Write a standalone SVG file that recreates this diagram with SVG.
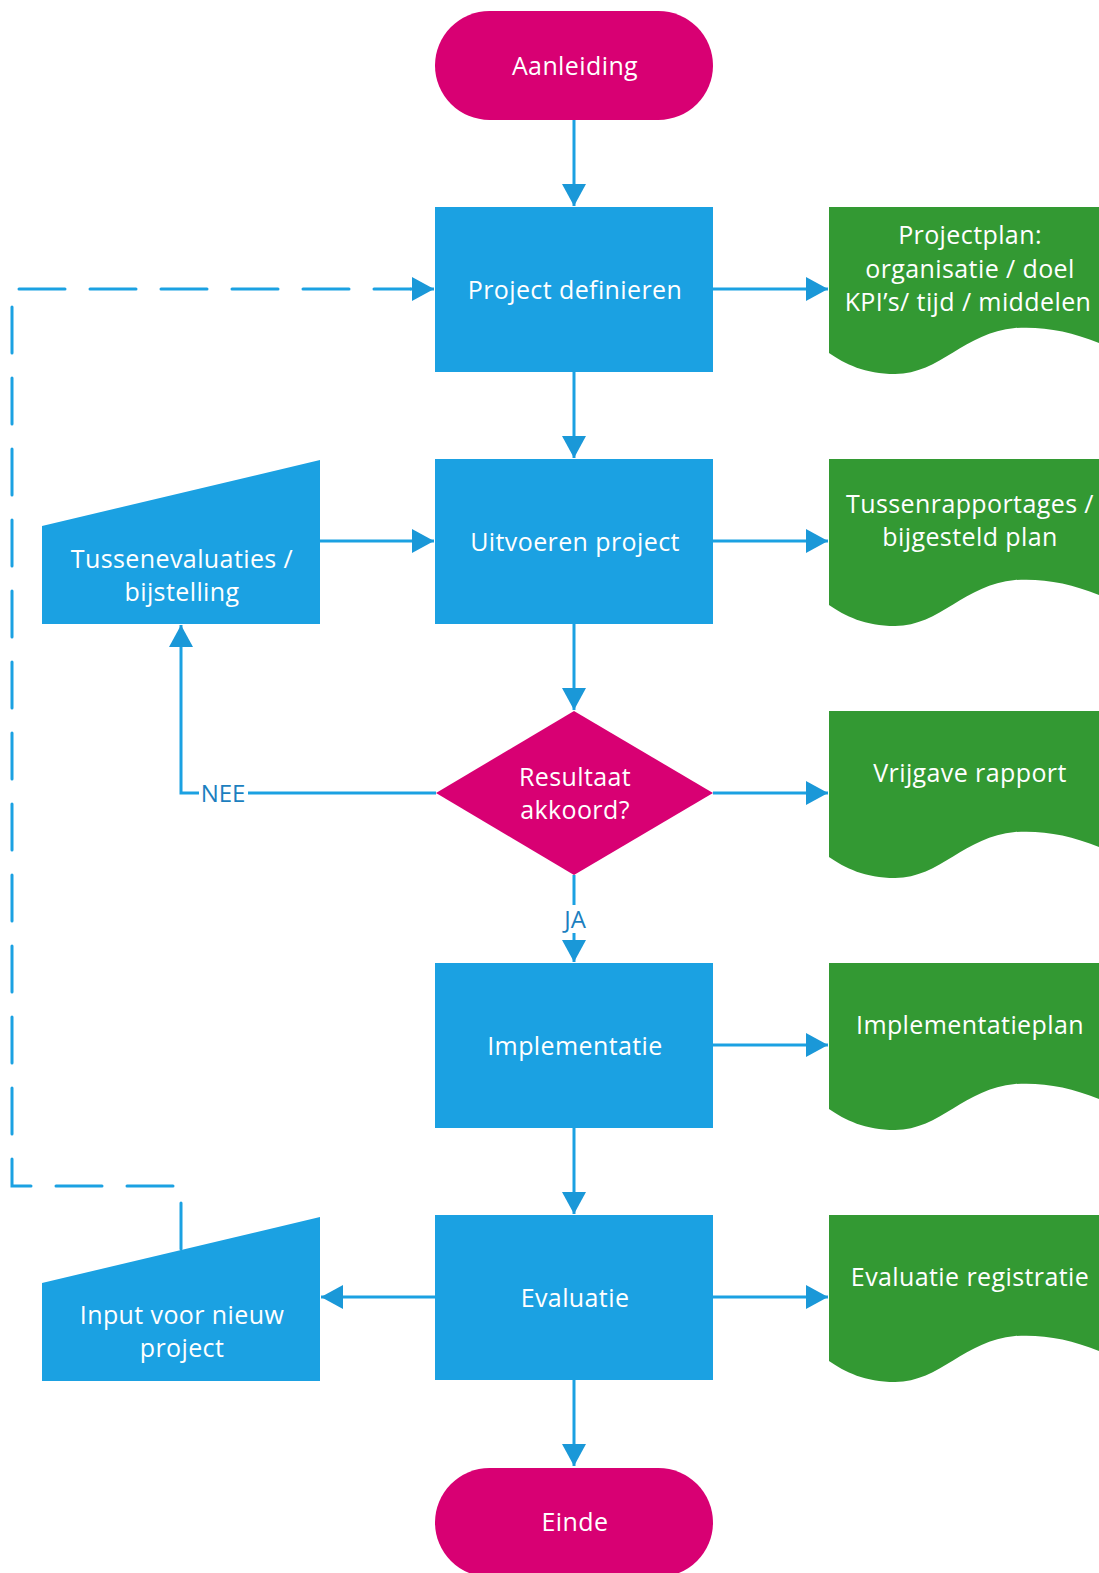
<svg xmlns="http://www.w3.org/2000/svg" width="1099" height="1573" viewBox="0 0 1099 1573">
<defs>
<marker id="ah" markerUnits="userSpaceOnUse" markerWidth="24" markerHeight="24" refX="22" refY="12" orient="auto">
<path d="M0,0 L22,12 L0,24 Z" fill="#1a98d8"/>
</marker>
<path id="wave" d="M0,0 H277 V139 C246,125 216,119 186,121 C136,125 111,167 66,167 C36,167 16,157 0,146 Z"/>
<style>
.term{fill:#d80073}
.proc{fill:#1ba1e2}
.doc{fill:#339933}
.t{font-family:"Open Sans","Noto Sans","Liberation Sans",sans-serif;font-size:25px;fill:#ffffff;text-anchor:middle;letter-spacing:0.4px}
.lbl{font-family:"Open Sans","Noto Sans","Liberation Sans",sans-serif;font-size:24px;fill:#1c7fbf;text-anchor:middle}
.c{fill:none;stroke:#1ba1e2;stroke-width:3;marker-end:url(#ah)}
.d{fill:none;stroke:#1ba1e2;stroke-width:3;stroke-dasharray:46 25;stroke-linecap:round}
</style>
</defs>
<rect width="1099" height="1573" fill="#ffffff"/>

<g id="connectors">
<path class="c" d="M574,120 V206"/>
<path class="c" d="M713,289 H828"/>
<path class="c" d="M574,372 V458"/>
<path class="c" d="M320,541 H434"/>
<path class="c" d="M713,541 H828"/>
<path class="c" d="M574,624 V710"/>
<path class="c" d="M436,793 H181 V625"/>
<path class="c" d="M713,793 H828"/>
<path class="c" d="M574,875 V962"/>
<path class="c" d="M713,1045 H828"/>
<path class="c" d="M574,1128 V1214"/>
<path class="c" d="M713,1297 H828"/>
<path class="c" d="M435,1297 H321"/>
<path class="c" d="M574,1380 V1466"/>
<path class="d" d="M181,1249 V1186 H12 V289 H410"/>
<path class="c" d="M410,289 H434"/>
<rect x="199" y="779" width="49" height="28" fill="#ffffff"/>
<text class="lbl" x="223" y="802">NEE</text>
<rect x="556" y="905" width="36" height="28" fill="#ffffff"/>
<text class="lbl" x="575" y="928">JA</text>
</g>

<g id="aanleiding">
<rect class="term" x="435" y="11" width="278" height="109" rx="54.5"/>
<text class="t" x="575" y="75">Aanleiding</text>
</g>

<g id="project-definieren">
<rect class="proc" x="435" y="207" width="278" height="165"/>
<text class="t" x="575" y="299">Project definieren</text>
</g>

<g id="projectplan">
<use href="#wave" class="doc" x="829" y="207"/>
<text class="t" x="970" y="244">Projectplan:</text>
<text class="t" x="970" y="278">organisatie / doel</text>
<text class="t" x="968" y="311">KPI’s/ tijd / middelen</text>
</g>

<g id="uitvoeren-project">
<rect class="proc" x="435" y="459" width="278" height="165"/>
<text class="t" x="575" y="551">Uitvoeren project</text>
</g>

<g id="tussenevaluaties">
<path class="proc" d="M42,526 L320,460 V624 H42 Z"/>
<text class="t" x="182" y="568">Tussenevaluaties /</text>
<text class="t" x="182" y="601">bijstelling</text>
</g>

<g id="tussenrapportages">
<use href="#wave" class="doc" x="829" y="459"/>
<text class="t" x="970" y="513">Tussenrapportages /</text>
<text class="t" x="970" y="546">bijgesteld plan</text>
</g>

<g id="resultaat-akkoord">
<path class="term" d="M574,711 L713,793 L574,875 L436,793 Z"/>
<text class="t" x="575" y="786">Resultaat</text>
<text class="t" x="575" y="819">akkoord?</text>
</g>

<g id="vrijgave-rapport">
<use href="#wave" class="doc" x="829" y="711"/>
<text class="t" x="970" y="782">Vrijgave rapport</text>
</g>

<g id="implementatie">
<rect class="proc" x="435" y="963" width="278" height="165"/>
<text class="t" x="575" y="1055">Implementatie</text>
</g>

<g id="implementatieplan">
<use href="#wave" class="doc" x="829" y="963"/>
<text class="t" x="970" y="1034">Implementatieplan</text>
</g>

<g id="evaluatie">
<rect class="proc" x="435" y="1215" width="278" height="165"/>
<text class="t" x="575" y="1307">Evaluatie</text>
</g>

<g id="evaluatie-registratie">
<use href="#wave" class="doc" x="829" y="1215"/>
<text class="t" x="970" y="1286">Evaluatie registratie</text>
</g>

<g id="input-nieuw-project">
<path class="proc" d="M42,1283 L320,1217 V1381 H42 Z"/>
<text class="t" x="182" y="1324">Input voor nieuw</text>
<text class="t" x="182" y="1357">project</text>
</g>

<g id="einde">
<rect class="term" x="435" y="1468" width="278" height="109" rx="54.5"/>
<text class="t" x="575" y="1531">Einde</text>
</g>
</svg>
